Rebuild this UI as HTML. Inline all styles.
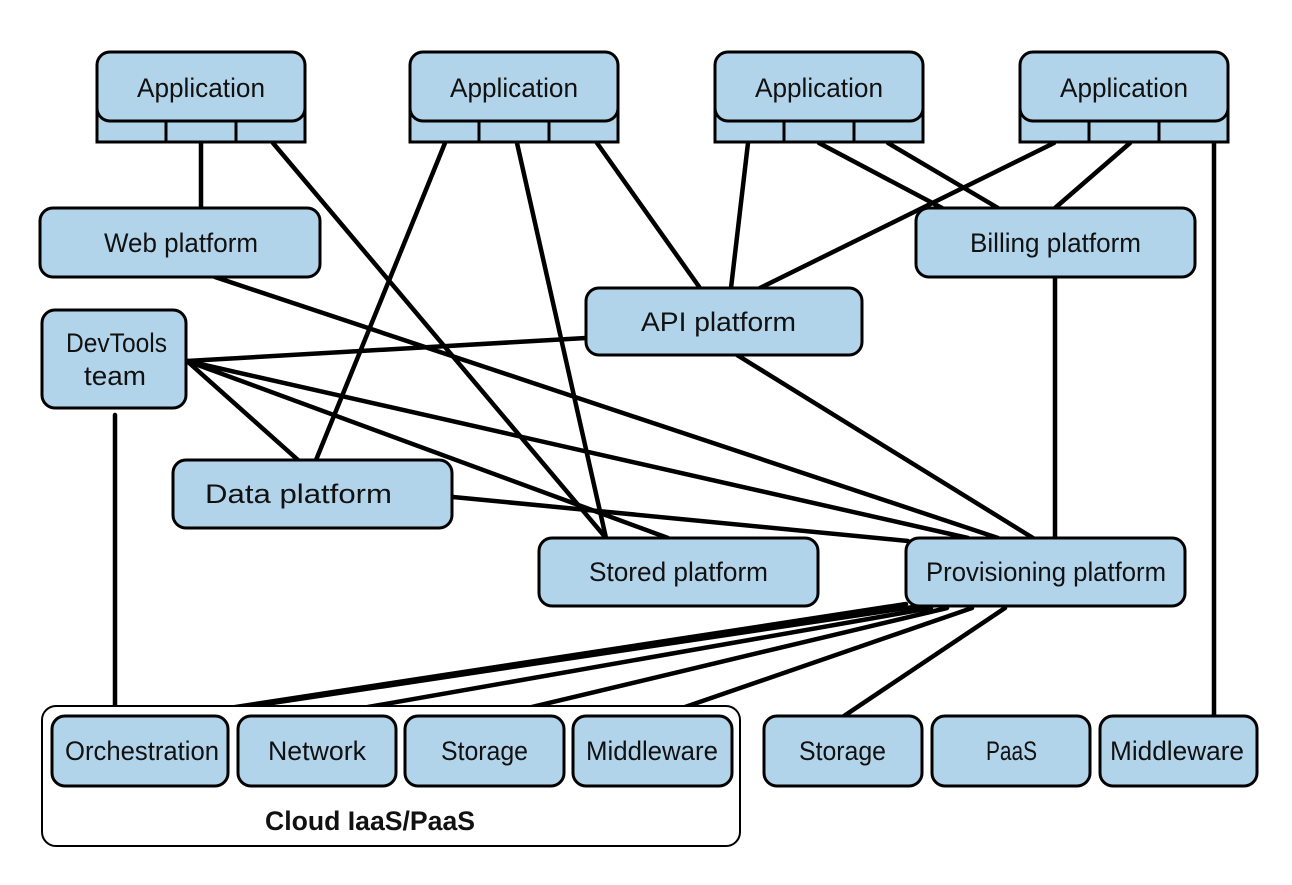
<!DOCTYPE html>
<html><head><meta charset="utf-8"><style>
html,body{margin:0;padding:0;background:#fff;}
svg{display:block;}
text{font-family:"Liberation Sans Narrow","Liberation Sans",sans-serif;font-size:27px;fill:#111;}
</style></head><body>
<svg width="1292" height="885" viewBox="0 0 1292 885" xmlns="http://www.w3.org/2000/svg">
<g stroke="#000" stroke-width="4.5" stroke-linecap="round" fill="none">
<!-- App lines -->
<line x1="201" y1="143" x2="201" y2="208"/>
<line x1="273" y1="143" x2="606" y2="538"/>
<line x1="445" y1="143" x2="316" y2="460"/>
<line x1="517" y1="143" x2="606" y2="538"/>
<line x1="597" y1="143" x2="700" y2="288"/>
<line x1="748" y1="143" x2="731" y2="288"/>
<line x1="819" y1="143" x2="942" y2="208"/>
<line x1="888" y1="143" x2="998" y2="208"/>
<line x1="1054" y1="143" x2="760" y2="288"/>
<line x1="1130" y1="143" x2="1055" y2="208"/>
<line x1="1214" y1="143" x2="1214" y2="716"/>
<line x1="1055" y1="277" x2="1055" y2="538"/>
<!-- web / devtools -->
<line x1="215" y1="277" x2="998" y2="538"/>
<line x1="187" y1="361" x2="586" y2="338"/>
<line x1="187" y1="361" x2="298" y2="460"/>
<line x1="187" y1="361" x2="668" y2="538"/>
<line x1="187" y1="361" x2="968" y2="538"/>
<line x1="737" y1="355" x2="1033" y2="538"/>
<line x1="453" y1="497" x2="908" y2="541"/>
<line x1="115" y1="415" x2="115" y2="716"/>
<!-- provisioning bottom -->
<line x1="906" y1="604" x2="177" y2="716"/>
<line x1="920" y1="606" x2="185" y2="716"/>
<line x1="931" y1="608" x2="317" y2="716"/>
<line x1="947" y1="608" x2="494" y2="716"/>
<line x1="972" y1="608" x2="659" y2="716"/>
<line x1="1005" y1="608" x2="844" y2="716"/>
</g>
<g stroke="#000" stroke-width="3" fill="#b2d4ea">
<!-- Apps -->
<g>
<rect x="97" y="105" width="208" height="37"/><line x1="166" y1="121" x2="166" y2="142"/><line x1="236" y1="121" x2="236" y2="142"/>
<rect x="97" y="52" width="208" height="69" rx="13"/>
</g>
<g transform="translate(313,0)">
<rect x="97" y="105" width="208" height="37"/><line x1="166" y1="121" x2="166" y2="142"/><line x1="236" y1="121" x2="236" y2="142"/>
<rect x="97" y="52" width="208" height="69" rx="13"/>
</g>
<g transform="translate(618,0)">
<rect x="97" y="105" width="208" height="37"/><line x1="166" y1="121" x2="166" y2="142"/><line x1="236" y1="121" x2="236" y2="142"/>
<rect x="97" y="52" width="208" height="69" rx="13"/>
</g>
<g transform="translate(923,0)">
<rect x="97" y="105" width="208" height="37"/><line x1="166" y1="121" x2="166" y2="142"/><line x1="236" y1="121" x2="236" y2="142"/>
<rect x="97" y="52" width="208" height="69" rx="13"/>
</g>
<rect x="40" y="208" width="280" height="69" rx="13"/>
<rect x="42" y="310" width="144" height="98" rx="13"/>
<rect x="586" y="288" width="276" height="67" rx="13"/>
<rect x="916" y="208" width="279" height="69" rx="13"/>
<rect x="173" y="460" width="279" height="68" rx="13"/>
<rect x="539" y="538" width="279" height="68" rx="13"/>
<rect x="906" y="538" width="279" height="68" rx="13"/>
<rect x="42" y="706" width="698" height="140" rx="14" fill="#fff" stroke-width="2"/>
<rect x="52" y="716" width="176" height="70" rx="13"/>
<rect x="238" y="716" width="158" height="70" rx="13"/>
<rect x="405" y="716" width="159" height="70" rx="13"/>
<rect x="573" y="716" width="159" height="70" rx="13"/>
<rect x="764" y="716" width="158" height="70" rx="13"/>
<rect x="932" y="716" width="158" height="70" rx="13"/>
<rect x="1100" y="716" width="157" height="70" rx="13"/>
</g>
<g>
<text x="137" y="97" textLength="128" lengthAdjust="spacingAndGlyphs">Application</text>
<text x="450" y="97" textLength="128" lengthAdjust="spacingAndGlyphs">Application</text>
<text x="755" y="97" textLength="128" lengthAdjust="spacingAndGlyphs">Application</text>
<text x="1060" y="97" textLength="128" lengthAdjust="spacingAndGlyphs">Application</text>
<text x="104" y="252" textLength="154" lengthAdjust="spacingAndGlyphs">Web platform</text>
<text x="66" y="352" textLength="101" lengthAdjust="spacingAndGlyphs">DevTools</text>
<text x="84" y="385" textLength="62" lengthAdjust="spacingAndGlyphs">team</text>
<text x="641" y="331" textLength="155" lengthAdjust="spacingAndGlyphs">API platform</text>
<text x="970" y="252" textLength="171" lengthAdjust="spacingAndGlyphs">Billing platform</text>
<text x="205" y="503" textLength="187" lengthAdjust="spacingAndGlyphs">Data  platform</text>
<text x="589" y="581" textLength="179" lengthAdjust="spacingAndGlyphs">Stored platform</text>
<text x="926" y="581" textLength="240" lengthAdjust="spacingAndGlyphs">Provisioning platform</text>
<text x="65" y="760" textLength="154" lengthAdjust="spacingAndGlyphs">Orchestration</text>
<text x="268" y="760" textLength="98" lengthAdjust="spacingAndGlyphs">Network</text>
<text x="441" y="760" textLength="87" lengthAdjust="spacingAndGlyphs">Storage</text>
<text x="586" y="760" textLength="132" lengthAdjust="spacingAndGlyphs">Middleware</text>
<text x="799" y="760" textLength="87" lengthAdjust="spacingAndGlyphs">Storage</text>
<text x="986" y="760" textLength="51" lengthAdjust="spacingAndGlyphs">PaaS</text>
<text x="1110" y="760" textLength="134" lengthAdjust="spacingAndGlyphs">Middleware</text>
<text x="265" y="830" textLength="210" lengthAdjust="spacingAndGlyphs" style="font-weight:bold">Cloud IaaS/PaaS</text>
</g>
</svg>
</body></html>
